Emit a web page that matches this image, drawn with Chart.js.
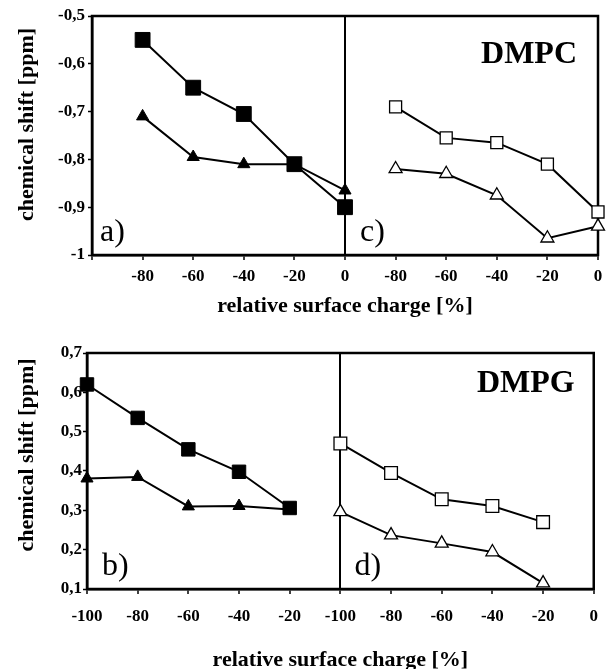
<!DOCTYPE html>
<html>
<head>
<meta charset="utf-8">
<script src="https://cdn.jsdelivr.net/npm/chart.js@4.4.1/dist/chart.umd.min.js"></script>
<style>
  html, body { margin: 0; padding: 0; background: #fff; overflow: hidden; width: 610px; height: 669px; }
  .box { position: absolute; left: 0; width: 610px; }
  #top { top: 0; height: 325px; }
  #bottom { top: 320px; height: 355px; }
</style>
</head>
<body>
<div class="box" id="top"><canvas id="dmpc"></canvas></div>
<div class="box" id="bottom"><canvas id="dmpg"></canvas></div>
<script>
// DMPC panel (a: filled symbols, c: open symbols)
const dmpcCharge = [-80, -60, -40, -20, 0];
const dmpcSquareA = [-0.55, -0.65, -0.705, -0.81, -0.9];
const dmpcTriangleA = [-0.71, -0.795, -0.81, -0.81, -0.865];
const dmpcSquareC = [-0.69, -0.755, -0.765, -0.81, -0.91];
const dmpcTriangleC = [-0.82, -0.83, -0.875, -0.965, -0.94];

// DMPG panel (b: filled symbols, d: open symbols)
const dmpgCharge = [-100, -80, -60, -40, -20];
const dmpgSquareB = [0.62, 0.535, 0.455, 0.398, 0.306];
const dmpgTriangleB = [0.381, 0.385, 0.31, 0.311, 0.302];
const dmpgSquareD = [0.47, 0.395, 0.328, 0.311, 0.27];
const dmpgTriangleD = [0.296, 0.237, 0.216, 0.194, 0.115];

const SERIF = "'Liberation Serif', 'Times New Roman', serif";

// left sub-panel sits on 0..100, right sub-panel on 100..200 of one x scale
function pts(charges, values, offset) {
  return charges.map((c, i) => ({ x: c + 100 + offset, y: values[i] }));
}

function series(data, style, filled, radius) {
  return {
    data: data,
    clip: false,
    borderColor: '#000',
    borderWidth: 2,
    pointStyle: style,
    pointRadius: radius,
    pointHoverRadius: radius,
    pointBackgroundColor: filled ? '#000' : '#fff',
    pointBorderColor: '#000',
    pointBorderWidth: filled ? 1 : 1.3,
    fill: false,
    tension: 0
  };
}

function fmt(v) {
  return String(Math.round(v * 10) / 10).replace('.', ',');
}

// frame, y title and panel labels
const panelText = {
  id: 'panelText',
  beforeDatasetsDraw(chart, args, opts) {
    const a = chart.chartArea;
    const ctx = chart.ctx;
    ctx.save();
    ctx.strokeStyle = '#000';
    ctx.lineWidth = 2.5;
    ctx.strokeRect(a.left, a.top, a.right - a.left, a.bottom - a.top);
    // y axis title
    ctx.translate(27, (a.top + a.bottom) / 2 + opts.yTitleShift);
    ctx.rotate(-Math.PI / 2);
    ctx.fillStyle = '#000';
    ctx.font = 'bold 22px ' + SERIF;
    ctx.textAlign = 'center';
    ctx.textBaseline = 'middle';
    ctx.fillText('chemical shift [ppm]', 0, 0);
    ctx.restore();
  },
  afterDatasetsDraw(chart, args, opts) {
    const a = chart.chartArea;
    const ctx = chart.ctx;
    const mid = chart.scales.x.getPixelForValue(100);
    ctx.save();
    ctx.fillStyle = '#000';
    ctx.textBaseline = 'alphabetic';
    ctx.font = 'bold 32px ' + SERIF;
    ctx.textAlign = 'right';
    ctx.fillText(opts.name, a.right - opts.nameInset, a.top + opts.nameDrop);
    ctx.font = '32px ' + SERIF;
    ctx.textAlign = 'left';
    ctx.fillText(opts.left, a.left + opts.leftInset, a.bottom - 14);
    ctx.fillText(opts.right, mid + opts.rightInset, a.bottom - 14);
    ctx.restore();
  }
};

function makeChart(id, datasets, yMin, yMax, xLabel, pad, xHeight, yWidth, xPad, yPad, text) {
  return new Chart(document.getElementById(id), {
    type: 'line',
    data: { datasets: datasets },
    plugins: [panelText],
    options: {
      animation: false,
      responsive: true,
      maintainAspectRatio: false,
      events: [],
      layout: { padding: pad },
      plugins: {
        legend: { display: false },
        tooltip: { enabled: false },
        panelText: text
      },
      scales: {
        x: {
          type: 'linear',
          min: 0,
          max: 200,
          afterFit: (s) => { s.height = xHeight; },
          border: { display: true, color: '#000', width: 2.5 },
          grid: {
            color: (c) => (c.tick && c.tick.value === 100 ? '#000' : 'rgba(0,0,0,0)'),
            lineWidth: 2,
            tickColor: '#000',
            tickLength: 5,
            tickWidth: 1.5
          },
          ticks: {
            stepSize: 20,
            maxRotation: 0,
            autoSkip: false,
            padding: xPad,
            color: '#000',
            font: { family: SERIF, size: 17, weight: 'bold' },
            callback: xLabel
          },
          title: {
            display: true,
            text: 'relative surface charge [%]',
            color: '#000',
            font: { family: SERIF, size: 22, weight: 'bold', lineHeight: 1 },
            padding: { top: 0, bottom: text.xTitlePad }
          }
        },
        y: {
          min: yMin,
          max: yMax,
          afterFit: (s) => { s.width = yWidth; },
          border: { display: true, color: '#000', width: 2.5 },
          grid: {
            color: 'rgba(0,0,0,0)',
            tickColor: '#000',
            tickLength: 4,
            tickWidth: 1.5
          },
          ticks: {
            stepSize: 0.1,
            padding: yPad,
            color: '#000',
            font: { family: SERIF, size: 17, weight: 'bold' },
            callback: fmt
          },
          title: { display: false }
        }
      }
    }
  });
}

makeChart('dmpc', [
    series(pts(dmpcCharge, dmpcSquareA, 0), 'rect', true, 10.5),
    series(pts(dmpcCharge, dmpcTriangleA, 0), 'triangle', true, 7),
    series(pts(dmpcCharge, dmpcSquareC, 100), 'rect', false, 8.5),
    series(pts(dmpcCharge, dmpcTriangleC, 100), 'triangle', false, 7.5)
  ], -1, -0.5,
  (v) => (v === 0 ? '' : (v <= 100 ? v - 100 : v - 200)),
  { left: 0, right: 12, top: 16, bottom: 0 }, 70, 92, 6, 3,
  { name: 'DMPC', nameInset: 21, nameDrop: 47, left: 'a)', leftInset: 8, right: 'c)', rightInset: 15, xTitlePad: 8, yTitleShift: -11 });

makeChart('dmpg', [
    series(pts(dmpgCharge, dmpgSquareB, 0), 'rect', true, 9.5),
    series(pts(dmpgCharge, dmpgTriangleB, 0), 'triangle', true, 7),
    series(pts(dmpgCharge, dmpgSquareD, 100), 'rect', false, 9),
    series(pts(dmpgCharge, dmpgTriangleD, 100), 'triangle', false, 7.5)
  ], 0.1, 0.7,
  (v) => (v < 100 ? v - 100 : v - 200),
  { left: 0, right: 6, top: 33, bottom: 0 }, 86, 87, 12, 1,
  { name: 'DMPG', nameInset: 19, nameDrop: 39, left: 'b)', leftInset: 15, right: 'd)', rightInset: 14, xTitlePad: 4, yTitleShift: -16 });
</script>
</body>
</html>
